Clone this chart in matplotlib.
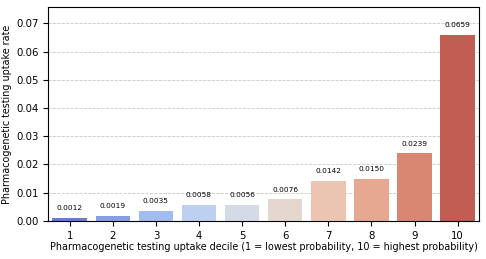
import numpy as np
import matplotlib.pyplot as plt
import seaborn as sns

deciles = ['1', '2', '3', '4', '5', '6', '7', '8', '9', '10']
uptake = [0.0012, 0.0019, 0.0035, 0.0058, 0.0056, 0.0076, 0.0142, 0.0150, 0.0239, 0.0659]

fig = plt.figure(figsize=(4.86, 2.59), dpi=100)
ax = fig.add_axes([0.099, 0.147, 0.887, 0.826])

# seaborn-style palette, toned down like barplot's default saturation
colors = [sns.desaturate(c, 0.75) for c in sns.color_palette('coolwarm', len(deciles))]
x = np.arange(len(deciles))
ax.bar(x, uptake, width=0.8, color=colors)
ax.set_xlim(-0.5, len(deciles) - 0.5)
ax.set_ylim(0, max(uptake) * 1.15)
ax.set_xticks(x)
ax.set_xticklabels(deciles)

for xi, v in zip(x, uptake):
    ax.annotate(f'{v:.4f}', (xi, v), xytext=(0, 5), textcoords='offset points',
                ha='center', va='bottom', fontsize=5.3)

ax.yaxis.grid(True, linestyle='--', alpha=0.7, linewidth=0.6)
ax.set_axisbelow(True)
ax.tick_params(labelsize=7.3)
ax.set_xlabel('Pharmacogenetic testing uptake decile (1 = lowest probability, 10 = highest probability)', fontsize=6.9, labelpad=1)
ax.set_ylabel('Pharmacogenetic testing uptake rate', fontsize=6.9, labelpad=3)

fig.savefig('out.png', dpi=100)
